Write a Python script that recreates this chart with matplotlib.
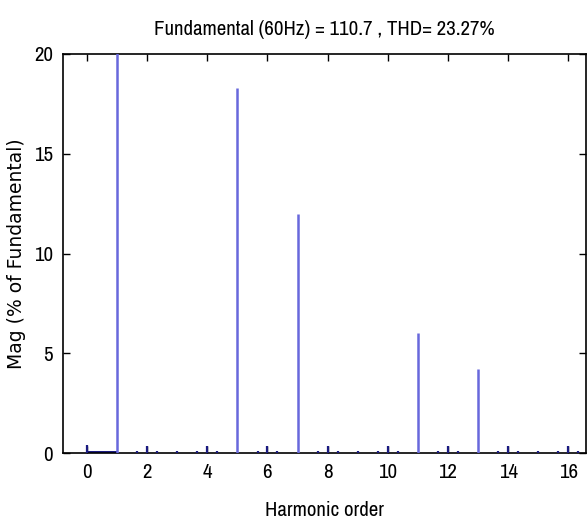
import numpy as np
import matplotlib
matplotlib.use("Agg")
import matplotlib.pyplot as plt
from matplotlib import font_manager

# main harmonics (% of fundamental); fundamental is 100 % but axis clips at 20
main_order = [1, 5, 7, 11, 13]
main_mag = [100.0, 18.3, 12.0, 6.0, 4.2]

# small components / interharmonics
small_order = [0, 1.67, 2, 2.33, 3, 3.67, 4, 4.33, 5.67, 6, 6.33, 7.67, 8, 8.33,
               9, 9.67, 10, 10.33, 11.67, 12, 12.33, 13.67, 14, 14.33, 15,
               15.67, 16, 16.33]
small_mag = [0.42, 0.1, 0.38, 0.12, 0.1, 0.1, 0.38, 0.12, 0.1, 0.38, 0.12, 0.1,
             0.38, 0.12, 0.1, 0.1, 0.38, 0.12, 0.1, 0.38, 0.12, 0.1, 0.38, 0.12,
             0.1, 0.1, 0.38, 0.12]

# low-frequency floor between DC and the fundamental
floor_range = [0, 1]
floor_level = 0.12

title = "Fundamental (60Hz) = 110.7 , THD= 23.27%"

fams = sorted({f.name for f in font_manager.fontManager.ttflist})
cond = [f for f in fams if "Condensed" in f or "Narrow" in f]
narrow = cond[0] if cond else "DejaVu Sans"

fig = plt.figure(figsize=(5.88, 5.19), dpi=100)
ax = fig.add_axes([0.107, 0.127, 0.890, 0.769])

ax.vlines(main_order, 0, main_mag, color="#6868dc", lw=1.8, zorder=3)
ax.vlines(small_order, 0, small_mag, color="#1a1a80", lw=1.6, zorder=3)
ax.fill_between(floor_range, 0, floor_level, color="#1a1a80", lw=0, zorder=2)

ax.set_xlim(-0.8, 16.6)
ax.set_ylim(0, 20)
ax.set_xticks(np.arange(0, 17, 2))
ax.set_yticks(np.arange(0, 21, 5))
ax.tick_params(direction="in", top=True, right=True, length=5, width=1,
               labelsize=15, pad=7)
for lab in ax.get_xticklabels() + ax.get_yticklabels():
    lab.set_fontfamily(narrow)
    lab.set_fontstretch("condensed")
for s in ax.spines.values():
    s.set_linewidth(1.2)

ax.set_title(title, fontsize=15, family=narrow, stretch="condensed", pad=14)
ax.set_xlabel("Harmonic order", fontsize=15, family=narrow, stretch="condensed",
              labelpad=14)
ax.set_ylabel("Mag (% of Fundamental)", fontsize=13.5, family="DejaVu Sans",
              labelpad=6)

fig.savefig("out.png", dpi=100)
